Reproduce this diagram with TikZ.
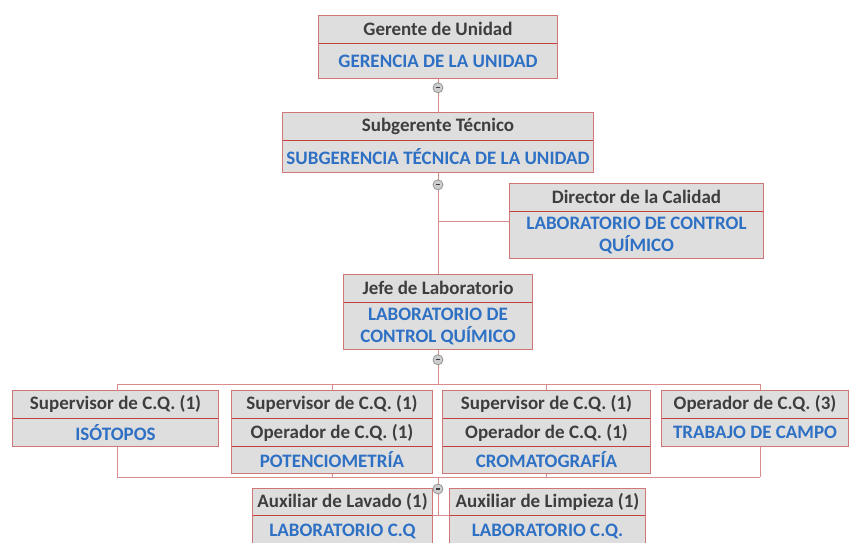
\documentclass[tikz,border=0pt]{standalone}
\usepackage{fontspec}
\setmainfont{Carlito}
\usetikzlibrary{positioning,backgrounds}
\definecolor{boxgray}{RGB}{222,222,222}
\definecolor{headgray}{RGB}{62,62,62}
\definecolor{labblue}{RGB}{45,112,196}
\definecolor{framered}{RGB}{208,118,118}
\definecolor{sepred}{RGB}{196,62,62}
\definecolor{linkred}{RGB}{218,140,140}
\definecolor{knobgray}{RGB}{150,150,150}
\definecolor{knobfill}{RGB}{205,205,205}
\tikzset{
	row/.style={fill=boxgray, inner sep=0pt, minimum height=28pt, text=headgray, align=center,
		font=\bfseries\fontsize{19}{22}\selectfont},
	bluerow/.style={row, text=labblue},
	frame/.style={draw=framered, line width=0.8pt},
	sep/.style={draw=sepred, line width=1.3pt},
	link/.style={draw=linkred, line width=0.8pt},
	knob/.style={circle, draw=knobgray, fill=knobfill, line width=0.8pt, minimum size=10pt, inner sep=0pt,
		path picture={\draw [headgray, line width=1.2pt] ([xshift=-2.2pt]path picture bounding box.center) -- ([xshift=2.2pt]path picture bounding box.center);}}
}

\begin{document}
\begin{tikzpicture}[x=1pt, y=-1pt]
		\useasboundingbox (0,0) rectangle (849,542);
		% top of the chart
		\node [row, minimum width=238pt, anchor=north] (gerente) at (438,15) {Gerente de Unidad};
		\node [bluerow, minimum width=238pt, minimum height=35pt, below=0pt of gerente] (gerencia) {GERENCIA DE LA UNIDAD};
		\node [row, minimum width=310pt, anchor=north] (subgerente) at (438,112) {Subgerente Técnico};
		\node [bluerow, minimum width=310pt, minimum height=32pt, below=0pt of subgerente] (subgerencia) {SUBGERENCIA TÉCNICA DE LA UNIDAD};
		\node [row, minimum width=253pt, anchor=north] (director) at (636.5,183) {Director de la Calidad};
		\node [bluerow, minimum width=253pt, minimum height=47pt, below=0pt of director] (dirlab) {LABORATORIO DE CONTROL\\QUÍMICO};
		\node [row, minimum width=188pt, anchor=north] (jefe) at (438,274) {Jefe de Laboratorio};
		\node [bluerow, minimum width=188pt, minimum height=47pt, below=0pt of jefe] (jefelab) {LABORATORIO DE\\CONTROL QUÍMICO};
		% areas
		\node [row, minimum width=205pt, anchor=north] (supIso) at (115.5,390) {Supervisor de C.Q. (1)};
		\node [bluerow, minimum width=205pt, below=0pt of supIso] (iso) {ISÓTOPOS};
		\node [row, minimum width=200pt, anchor=north] (supPot) at (332,390) {Supervisor de C.Q. (1)};
		\node [row, minimum width=200pt, below=0pt of supPot] (opPot) {Operador de C.Q. (1)};
		\node [bluerow, minimum width=200pt, minimum height=26pt, below=0pt of opPot] (pot) {POTENCIOMETRÍA};
		\node [row, minimum width=207pt, anchor=north] (supCro) at (546.5,390) {Supervisor de C.Q. (1)};
		\node [row, minimum width=207pt, below=0pt of supCro] (opCro) {Operador de C.Q. (1)};
		\node [bluerow, minimum width=207pt, minimum height=26pt, below=0pt of opCro] (cro) {CROMATOGRAFÍA};
		\node [row, minimum width=186pt, anchor=north] (opCampo) at (755,390) {Operador de C.Q. (3)};
		\node [bluerow, minimum width=186pt, below=0pt of opCampo] (campo) {TRABAJO DE CAMPO};
		% auxiliaries
		\node [row, minimum width=179pt, minimum height=27pt, anchor=north] (auxLav) at (342.5,488) {Auxiliar de Lavado (1)};
		\node [bluerow, minimum width=179pt, minimum height=32pt, below=0pt of auxLav] (labLav) {LABORATORIO C.Q};
		\node [row, minimum width=195pt, minimum height=27pt, anchor=north] (auxLim) at (547.5,488) {Auxiliar de Limpieza (1)};
		\node [bluerow, minimum width=195pt, minimum height=32pt, below=0pt of auxLim] (labLim) {LABORATORIO C.Q.};

		% frames and separators
		\draw [frame] (gerente.north west) rectangle (gerencia.south east);
		\draw [frame] (subgerente.north west) rectangle (subgerencia.south east);
		\draw [frame] (director.north west) rectangle (dirlab.south east);
		\draw [frame] (jefe.north west) rectangle (jefelab.south east);
		\draw [frame] (supIso.north west) rectangle (iso.south east);
		\draw [frame] (supPot.north west) rectangle (pot.south east);
		\draw [frame] (supCro.north west) rectangle (cro.south east);
		\draw [frame] (opCampo.north west) rectangle (campo.south east);
		\draw [frame] (auxLav.north west) rectangle (labLav.south east);
		\draw [frame] (auxLim.north west) rectangle (labLim.south east);
		\foreach \n in {gerente,subgerente,director,jefe,supIso,supPot,opPot,supCro,opCro,opCampo,auxLav,auxLim}
			\draw [sep] (\n.south west) -- (\n.south east);

		% connectors, behind the boxes
		\begin{scope}[on background layer]
			\coordinate (dirjoin) at (438,221);
			\coordinate (topbus) at (438,384);
			\coordinate (botbus) at (438,477);
			\draw [link] (gerencia.south) -- (subgerente.north);
			\draw [link] (subgerencia.south) -- (jefe.north);
			\draw [link] (dirjoin) -- (dirjoin -| dirlab.west);
			\draw [link] (jefelab.south) -- (topbus);
			\draw [link] ([xshift=1.5pt]supIso.north |- topbus) -- ([xshift=5pt]opCampo.north |- topbus);
			\draw [link] ([xshift=1.5pt]supIso.north |- botbus) -- ([xshift=5pt]opCampo.north |- botbus);
			\draw [link] ([xshift=1.5pt]supIso.north |- topbus) -- ([xshift=1.5pt]supIso.north |- botbus);
			\draw [link] ([xshift=5pt]opCampo.north |- topbus) -- ([xshift=5pt]opCampo.north |- botbus);
			\foreach \n in {supPot,supCro}
				\draw [link] (\n.north |- topbus) -- (\n.north |- botbus);
			\draw [link] (botbus) -- (auxLav.south east -| botbus);
			\draw [link] (auxLav.south east) -- (auxLim.south west);
		\end{scope}

		% collapse knobs
		\node [knob] (knobA) at ([yshift=-9pt]gerencia.south) {};
		\node [knob] (knobB) at ([yshift=-12pt]subgerencia.south) {};
		\node [knob] (knobC) at ([yshift=-10pt]jefelab.south) {};
		\node [knob] (knobD) at ([yshift=-12pt]botbus) {};
	\end{tikzpicture}
\end{document}
